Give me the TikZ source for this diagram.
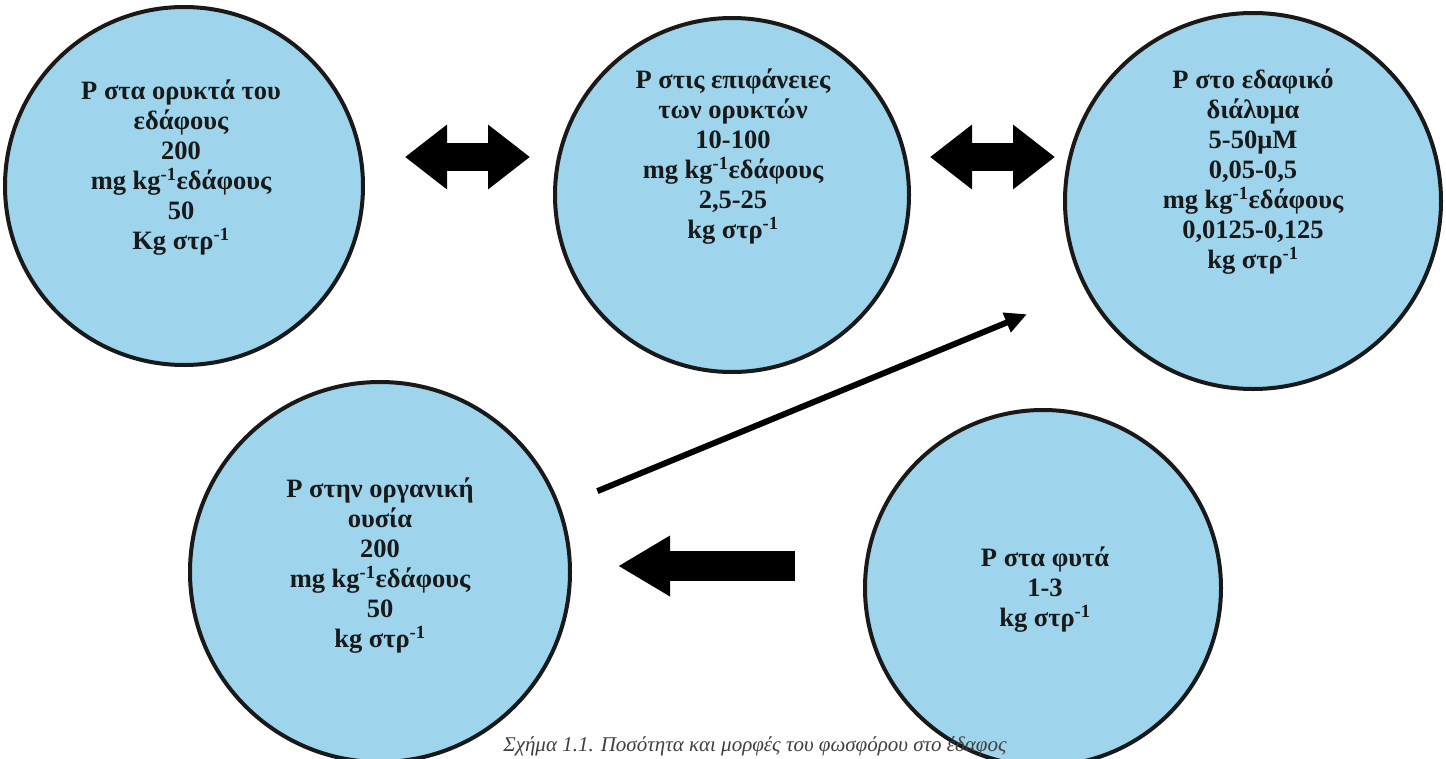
\documentclass[tikz,border=0pt]{standalone}
\usepackage{fontspec}
\setmainfont{Liberation Serif}
\usetikzlibrary{arrows.meta}
\definecolor{cfill}{RGB}{158,213,236}
\begin{document}
\begin{tikzpicture}[x=1pt,y=-1pt,
  pool/.style={circle, draw=black!90, line width=4pt, fill=cfill, inner sep=0pt, minimum size=#1},
  ptext/.style={align=center, font=\bfseries\fontsize{26.5}{30}\selectfont, text=black!90},
  blockarrow/.style={line width=28pt, {Triangle[length=42pt,width=62pt]}-{Triangle[length=42pt,width=62pt]}},
  thinarrow/.style={line width=6pt, -{Triangle[length=22pt,width=20pt]}},
  bigarrow/.style={line width=30pt, -{Triangle[length=52pt,width=57pt]}},
  captionstyle/.style={font=\itshape\fontsize{21}{24}\selectfont, text=black!75, anchor=base}
]
\useasboundingbox (0,0) rectangle (1446,758);
\clip (0,0) rectangle (1446,758);
\fill[white] (0,0) rectangle (1446,758);

\node[pool=358] (c1) at (184,186) {};
\node[pool=354] (c2) at (732,195) {};
\node[pool=376] (c3) at (1253,201) {};
\node[pool=380] (c4) at (380,572) {};
\node[pool=356] (c5) at (1043,588) {};

\node[ptext] (t1) at (181,168) {P στα ορυκτά του\\εδάφους\\200\\mg kg\textsuperscript{-1}εδάφους\\50\\Kg στρ\textsuperscript{-1}};
\node[ptext] (t2) at (733,157) {P στις επιφάνειες\\των ορυκτών\\10-100\\mg kg\textsuperscript{-1}εδάφους\\2,5-25\\kg στρ\textsuperscript{-1}};
\node[ptext] (t3) at (1253,172) {P στο εδαφικό\\διάλυμα\\5-50μM\\0,05-0,5\\mg kg\textsuperscript{-1}εδάφους\\0,0125-0,125\\kg στρ\textsuperscript{-1}};
\node[ptext] (t4) at (380,566) {P στην οργανική\\ουσία\\200\\mg kg\textsuperscript{-1}εδάφους\\50\\kg στρ\textsuperscript{-1}};
\node[ptext] (t5) at (1045,590) {P στα φυτά\\1-3\\kg στρ\textsuperscript{-1}};

\draw[blockarrow, shorten <=40pt, shorten >=23pt] ([yshift=29pt]c1.east) -- ([yshift=38pt]c2.west);
\draw[blockarrow, shorten <=19pt, shorten >=8pt] ([yshift=38pt]c2.east) -- ([yshift=44pt]c3.west);
\draw[thinarrow, shorten <=40pt, shorten >=63pt] (c4.20) -- (c3.208);
\draw[bigarrow, shorten <=68pt, shorten >=46pt] ([yshift=22pt]c5.west) -- ([yshift=6pt]c4.east);

\node[captionstyle] (cap) at (755,751) {Σχήμα 1.1. Ποσότητα και μορφές του φωσφόρου στο έδαφος};
\end{tikzpicture}
\end{document}
